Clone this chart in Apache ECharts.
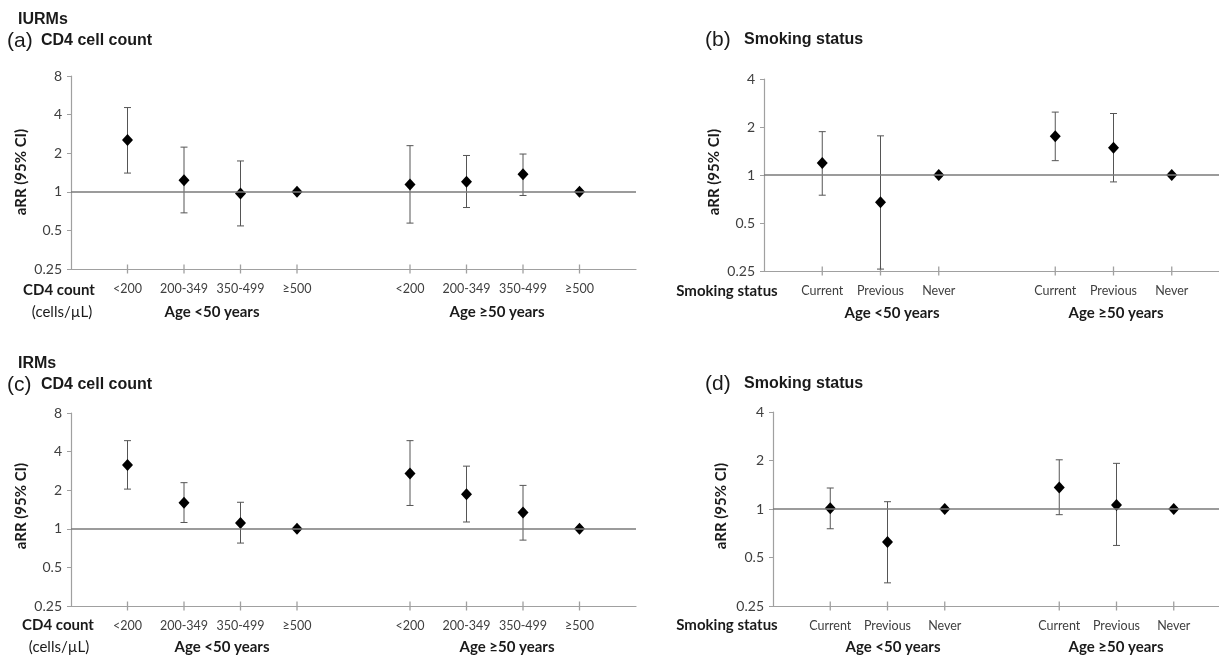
<!DOCTYPE html>
<html>
<head>
<meta charset="utf-8">
<script src="https://cdn.jsdelivr.net/npm/echarts@6/dist/echarts.min.js"></script>
<style>
  html, body { margin: 0; padding: 0; background: #fff; }
  #chart { width: 1219px; height: 656px; }
</style>
</head>
<body>
<div id="chart"></div>
<script>
// categories / positions on the x scale (gap slot between age groups)
const cd4Labels = ['<200', '200-349', '350-499', '≥500', '<200', '200-349', '350-499', '≥500']
const cd4Pos = [1, 2, 3, 4, 6, 7, 8, 9]
const smokeLabels = ['Current', 'Previous', 'Never', 'Current', 'Previous', 'Never']
const smokePos = [1, 2, 3, 5, 6, 7]

// (a) IURMs, CD4 cell count
const aEst = [2.54, 1.23, 0.97, 1, 1.14, 1.20, 1.37, 1]
const aLow = [1.40, 0.685, 0.542, null, 0.57, 0.754, 0.936, null]
const aHigh = [4.54, 2.23, 1.74, null, 2.29, 1.92, 1.97, null]
// (b) IURMs, smoking status
const bEst = [1.19, 0.675, 1, 1.75, 1.48, 1]
const bLow = [0.747, 0.257, null, 1.23, 0.905, null]
const bHigh = [1.87, 1.76, null, 2.48, 2.43, null]
// (c) IRMs, CD4 cell count
const cEst = [3.15, 1.60, 1.11, 1, 2.70, 1.86, 1.34, 1]
const cLow = [2.04, 1.12, 0.774, null, 1.52, 1.13, 0.816, null]
const cHigh = [4.87, 2.29, 1.61, null, 4.87, 3.08, 2.18, null]
// (d) IRMs, smoking status
const dEst = [1.01, 0.623, 1, 1.36, 1.06, 1]
const dLow = [0.754, 0.348, null, 0.922, 0.594, null]
const dHigh = [1.35, 1.11, null, 2.02, 1.92, null]

const labelFont = 'Lato, "Open Sans", sans-serif'
const titleFont = '"Liberation Sans", Arial, sans-serif'
const axisGrey = '#a0a0a0'

const panels = [
  { grid: { left: 71, top: 76, width: 565, height: 193 }, xmax: 10, ymax: 8, pos: cd4Pos, labels: cd4Labels, est: aEst, low: aLow, high: aHigh },
  { grid: { left: 764, top: 79, width: 466, height: 192 }, xmax: 8, ymax: 4, pos: smokePos, labels: smokeLabels, est: bEst, low: bLow, high: bHigh },
  { grid: { left: 71, top: 413, width: 565, height: 193 }, xmax: 10, ymax: 8, pos: cd4Pos, labels: cd4Labels, est: cEst, low: cLow, high: cHigh },
  { grid: { left: 773, top: 412, width: 458, height: 194 }, xmax: 8, ymax: 4, pos: smokePos, labels: smokeLabels, est: dEst, low: dLow, high: dHigh }
]

function errBar(params, api) {
  const x = api.value(0)
  const lo = api.coord([x, api.value(1)])
  const hi = api.coord([x, api.value(2)])
  const w = 3.5
  const style = { stroke: '#555', lineWidth: 1 }
  return {
    type: 'group',
    children: [
      { type: 'line', shape: { x1: lo[0], y1: lo[1], x2: hi[0], y2: hi[1] }, style: style },
      { type: 'line', shape: { x1: hi[0] - w, y1: hi[1], x2: hi[0] + w, y2: hi[1] }, style: style },
      { type: 'line', shape: { x1: lo[0] - w, y1: lo[1], x2: lo[0] + w, y2: lo[1] }, style: style }
    ]
  }
}

const grid = [], xAxis = [], yAxis = [], series = []
panels.forEach((p, i) => {
  grid.push(Object.assign({ outerBoundsMode: 'none', containLabel: false }, p.grid))
  xAxis.push({
    type: 'value', gridIndex: i, min: 0, max: p.xmax, interval: 1, position: 'bottom',
    splitLine: { show: false },
    axisLine: { show: true, lineStyle: { color: axisGrey, width: 1.2 } },
    axisTick: { show: false },
    axisLabel: {
      margin: 13, color: '#404040', fontSize: 12.5, fontFamily: labelFont,
      showMinLabel: false, showMaxLabel: false,
      formatter: v => p.labels[p.pos.indexOf(v)] || ''
    }
  })
  yAxis.push({
    type: 'log', logBase: 2, gridIndex: i, min: 0.25, max: p.ymax, splitNumber: 5,
    splitLine: { show: false },
    axisLine: { show: true, lineStyle: { color: axisGrey, width: 1.2 } },
    axisTick: { show: true, length: 4, lineStyle: { color: axisGrey } },
    axisLabel: { margin: 9, color: '#404040', fontSize: 14, fontFamily: labelFont, formatter: v => String(+v.toFixed(2)) }
  })
  // "+" shaped category ticks crossing the bottom axis line
  series.push({
    type: 'scatter', xAxisIndex: i, yAxisIndex: i, silent: true, z: 2, clip: false,
    symbol: 'rect', symbolSize: [1.3, 9],
    itemStyle: { color: axisGrey, opacity: 1 },
    data: p.pos.map(x => [x, 0.25])
  })
  series.push({
    type: 'custom', xAxisIndex: i, yAxisIndex: i, renderItem: errBar, silent: true, z: 3,
    encode: { x: 0, y: [1, 2] },
    data: p.pos.map((x, k) => [x, p.low[k], p.high[k]]).filter(d => d[1] != null)
  })
  series.push({
    type: 'scatter', xAxisIndex: i, yAxisIndex: i, symbol: 'diamond', symbolSize: [11, 12], z: 4,
    itemStyle: { color: '#000', opacity: 1 },
    data: p.pos.map((x, k) => [x, p.est[k]]),
    markLine: {
      silent: true, symbol: 'none', label: { show: false },
      lineStyle: { color: '#7a7a7a', width: 1.5, type: 'solid' },
      data: [{ yAxis: 1 }]
    }
  })
})

function txt(x, y, text, opt) {
  return {
    type: 'text', x: x, y: y, rotation: (opt && opt.rot) || 0,
    style: Object.assign({
      text: text, fill: '#1a1a1a', font: 'bold 15px ' + labelFont,
      align: 'center', verticalAlign: 'middle'
    }, opt && opt.style)
  }
}
const left = { align: 'left' }
const graphic = [
  txt(18, 20, 'IURMs', { style: Object.assign({ font: 'bold 16px ' + titleFont }, left) }),
  txt(7, 41, '(a)', { style: Object.assign({ font: '21px ' + titleFont }, left) }),
  txt(41, 41, 'CD4 cell count', { style: Object.assign({ font: 'bold 16px ' + titleFont }, left) }),
  txt(21, 172, 'aRR (95% CI)', { rot: Math.PI / 2 }),
  txt(59, 290, 'CD4 count'),
  txt(62, 312, '(cells/µL)', { style: { font: '15px ' + labelFont } }),
  txt(212, 312, 'Age <50 years'),
  txt(497, 312, 'Age ≥50 years'),

  txt(705, 40, '(b)', { style: Object.assign({ font: '21px ' + titleFont }, left) }),
  txt(744, 40, 'Smoking status', { style: Object.assign({ font: 'bold 16px ' + titleFont }, left) }),
  txt(714, 172, 'aRR (95% CI)', { rot: Math.PI / 2 }),
  txt(727, 291, 'Smoking status'),
  txt(892, 313, 'Age <50 years'),
  txt(1116, 313, 'Age ≥50 years'),

  txt(18, 364, 'IRMs', { style: Object.assign({ font: 'bold 16px ' + titleFont }, left) }),
  txt(7, 385, '(c)', { style: Object.assign({ font: '21px ' + titleFont }, left) }),
  txt(41, 385, 'CD4 cell count', { style: Object.assign({ font: 'bold 16px ' + titleFont }, left) }),
  txt(21, 506, 'aRR (95% CI)', { rot: Math.PI / 2 }),
  txt(58, 625, 'CD4 count'),
  txt(59, 647, '(cells/µL)', { style: { font: '15px ' + labelFont } }),
  txt(222, 647, 'Age <50 years'),
  txt(507, 647, 'Age ≥50 years'),

  txt(705, 384, '(d)', { style: Object.assign({ font: '21px ' + titleFont }, left) }),
  txt(744, 384, 'Smoking status', { style: Object.assign({ font: 'bold 16px ' + titleFont }, left) }),
  txt(721, 506, 'aRR (95% CI)', { rot: Math.PI / 2 }),
  txt(727, 625, 'Smoking status'),
  txt(893, 647, 'Age <50 years'),
  txt(1116, 647, 'Age ≥50 years')
]

const chart = echarts.init(document.getElementById('chart'))
chart.setOption({
  backgroundColor: '#fff',
  animation: false,
  grid: grid,
  xAxis: xAxis,
  yAxis: yAxis,
  series: series,
  graphic: graphic
})
</script>
</body>
</html>
